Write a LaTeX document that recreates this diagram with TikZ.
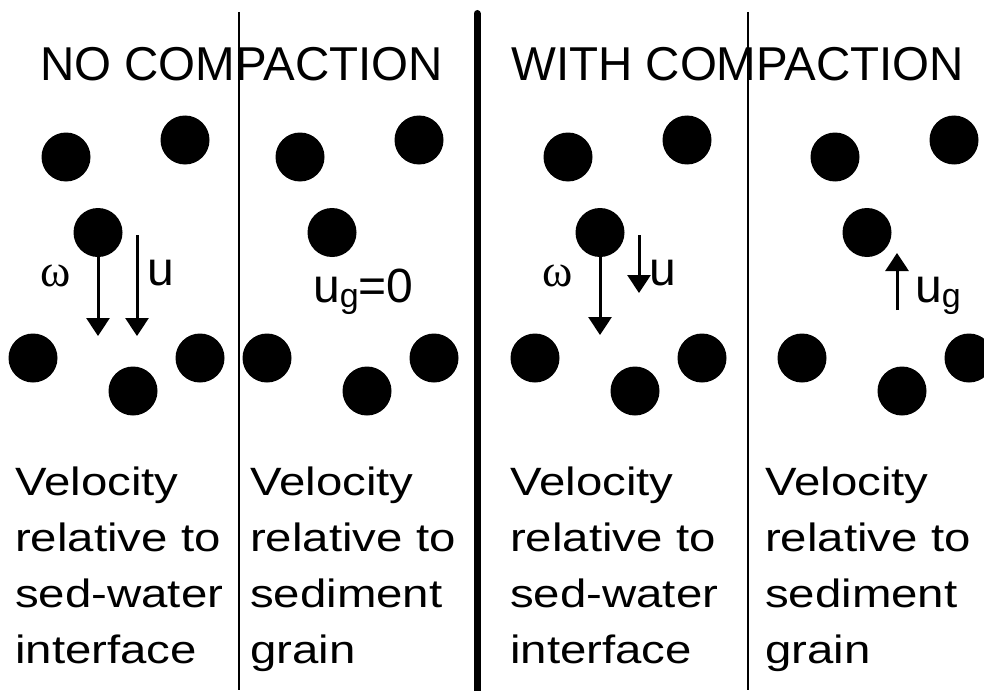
\documentclass[tikz,border=0pt]{standalone}
\usepackage{fontspec}
\setmainfont{Liberation Sans}
\newfontfamily\greekfont{Liberation Serif}
\newfontfamily\widefont[FakeStretch=1.2]{Liberation Sans}
\usetikzlibrary{arrows.meta, positioning}
\newcommand{\lowsub}[1]{\raisebox{-5pt}{\fontsize{34}{34}\selectfont #1}}

\begin{document}
\begin{tikzpicture}[x=1pt, y=-1pt,
    grain/.style={circle, fill=black, minimum size=49pt, inner sep=0pt},
    vel/.style={line width=3pt, -{Triangle[width=23pt, length=18pt]}},
    heading/.style={anchor=base west, inner sep=0pt, font=\fontsize{47.5}{56}\selectfont},
    lbl/.style={anchor=base west, inner sep=0pt, font=\fontsize{48}{56}\selectfont},
    greeklbl/.style={anchor=base west, inner sep=0pt, font=\greekfont\fontsize{46}{46}\selectfont},
    caption/.style={anchor=north west, align=left, inner sep=0pt, font=\widefont\fontsize{39.5}{56}\selectfont}]
    \useasboundingbox (0,0) rectangle (984,690);
    % panel dividers
    \draw[line width=2pt] (239,12) -- (239,690);
    \draw[line width=7pt, line cap=round] (477,13.5) -- (477,700);
    \draw[line width=2pt] (748,12) -- (748,690);
    % headings
    \node[heading] (nocomp) at (40,81) {NO COMPACTION};
    \node[heading] (withcomp) at (511,81) {WITH COMPACTION};
    % grains, same layout in every panel
    \foreach \p/\dx in {1/0, 2/234, 3/502, 4/769}
      \foreach \g/\gx/\gy in {tl/66/157, tr/185/140, mid/98/232.5, bl/33/358, bm/133/391, br/200/358}
        \node[grain] (g\p\g) at (\gx+\dx, \gy) {};
    % no compaction, interface frame
    \coordinate (w1end) at (98,336);
    \coordinate (u1top) at (137,235);
    \coordinate (u1end) at (137,336);
    \draw[vel] (g1mid.south) -- (w1end);
    \draw[vel] (u1top) -- (u1end);
    \node[greeklbl] (w1) at (40,286) {ω};
    \node[lbl] (u1) at (147,285) {u};
    % no compaction, grain frame
    \node[lbl] (ug2) at (313,302) {u\lowsub{g}=0};
    % with compaction, interface frame
    \coordinate (w3end) at (600,335);
    \coordinate (u3top) at (639,235);
    \coordinate (u3end) at (639,293);
    \draw[vel] (g3mid.south) -- (w3end);
    \draw[vel] (u3top) -- (u3end);
    \node[greeklbl] (w3) at (542,286) {ω};
    \node[lbl] (u3) at (649,285) {u};
    % with compaction, grain frame
    \coordinate (ug4bot) at (897,310);
    \coordinate (ug4top) at (897,253);
    \draw[vel] (ug4bot) -- (ug4top);
    \node[lbl] (ug4) at (915,302) {u\lowsub{g}};
    % captions
    \node[caption] (cap1) at (15,467) {Velocity\\relative to\\sed-water\\interface};
    \node[caption] (cap2) at (250,467) {Velocity\\relative to\\sediment\\grain};
    \node[caption] (cap3) at (510,467) {Velocity\\relative to\\sed-water\\interface};
    \node[caption] (cap4) at (765,467) {Velocity\\relative to\\sediment\\grain};
\end{tikzpicture}
\end{document}
